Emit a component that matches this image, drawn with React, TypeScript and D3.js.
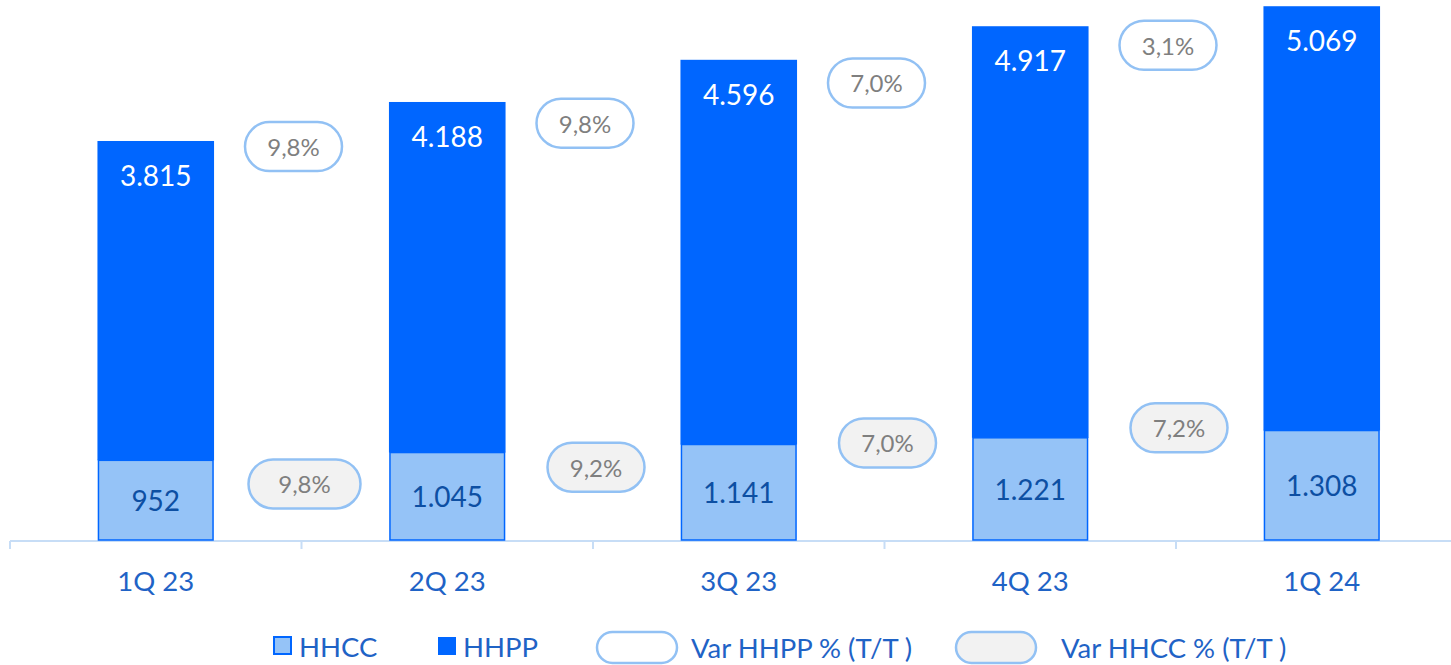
import React from 'react';
import * as d3 from 'd3';

// Quarterly households (thousands): HHCC stacked under HHPP
const quarters = ['1Q 23', '2Q 23', '3Q 23', '4Q 23', '1Q 24'];
const hhcc = [952, 1045, 1141, 1221, 1308];
const hhpp = [3815, 4188, 4596, 4917, 5069];

// Quarter-on-quarter growth shown in the pills between bars
const varHhpp = [9.8, 9.8, 7.0, 3.1];
const varHhcc = [9.8, 9.2, 7.0, 7.2];
// level (in household units) at which each growth tag sits
const varHhppLevel = [4700, 4980, 5460, 5910];
const varHhccLevel = [670, 870, 1160, 1340];

const W = 1451;
const H = 665;
const FONT = 'Lato, "Noto Sans", sans-serif';
const BLUE = '#0066FF';
const LIGHT = '#95C3F7';
const PILL_STROKE = '#92C1F4';
const AXIS = '#C7DDF6';
const TEXT_BLUE = '#1F63C6';

const fmt = (v: number) => d3.format(',')(v).replace(/,/g, '.');
const fmtPct = (v: number) => v.toFixed(1).replace('.', ',') + '%';

export default function App() {
  const x = d3.scaleBand<string>().domain(quarters).range([10, 1467.5]).padding(0);
  const step = x.step();
  const barW = x.bandwidth() * 0.4;
  const y = d3.scaleLinear().domain([0, 6400]).range([540, 4.3]);

  const rows = quarters.map((q, i) => ({ q, hhcc: hhcc[i], hhpp: hhpp[i] }));
  const stack = d3.stack<any>().keys(['hhcc', 'hhpp'])(rows);
  const [ccLayer, ppLayer] = stack;

  const pillW = 97;
  const pillH = 49;
  const boundaries = d3.range(quarters.length + 1).map(i => x.range()[0] + i * step);

  const pill = (cx: number, cy: number, label: string, fill: string, key: string, w = pillW) => (
    <g key={key}>
      <rect x={cx - w / 2} y={cy - pillH / 2} width={w} height={pillH} rx={pillH / 2}
        fill={fill} stroke={PILL_STROKE} strokeWidth={2.5} />
      <text x={cx} y={cy} textAnchor="middle" dominantBaseline="central" fontSize={24} fill="#7F7F7F">{label}</text>
    </g>
  );

  return (
    <svg width={W} height={H} style={{ position: 'absolute', left: 0, top: 0, background: '#fff' }} fontFamily={FONT}>
      {/* axis */}
      <line x1={10} x2={W} y1={541} y2={541} stroke={AXIS} strokeWidth={2} />
      {boundaries.map((b, i) => (
        <line key={i} x1={b} x2={b} y1={541} y2={549} stroke={AXIS} strokeWidth={2} />
      ))}
      {quarters.map(q => (
        <text key={q} x={x(q)! + x.bandwidth() / 2} y={580} textAnchor="middle" dominantBaseline="central"
          fontSize={27.5} fill={TEXT_BLUE}>{q}</text>
      ))}

      {/* bars */}
      {quarters.map((q, i) => {
        const bx = x(q)! + (x.bandwidth() - barW) / 2;
        const cc = ccLayer[i];
        const pp = ppLayer[i];
        return (
          <g key={q}>
            <rect x={bx} y={y(pp[1])} width={barW} height={y(pp[0]) - y(pp[1])} fill={BLUE} />
            <rect x={bx + 1} y={y(cc[1])} width={barW - 2} height={y(cc[0]) - y(cc[1])} fill={LIGHT}
              stroke={BLUE} strokeWidth={1.5} />
            <text x={bx + barW / 2} y={y(pp[1]) + 34} textAnchor="middle" dominantBaseline="central"
              fontSize={28} fill="#fff">{fmt(hhpp[i])}</text>
            <text x={bx + barW / 2} y={(y(cc[0]) + y(cc[1])) / 2} textAnchor="middle" dominantBaseline="central"
              fontSize={28} fill="#0D4FA3">{fmt(hhcc[i])}</text>
          </g>
        );
      })}

      {/* growth pills */}
      {varHhpp.map((v, i) => pill(boundaries[i + 1] - 8, y(varHhppLevel[i]), fmtPct(v), '#fff', 'pp' + i))}
      {varHhcc.map((v, i) => pill(boundaries[i + 1] + 3, y(varHhccLevel[i]), fmtPct(v), '#F2F2F2', 'cc' + i,
        i === 0 ? 112 : pillW))}

      {/* legend */}
      <g fontSize={27.5} fill={TEXT_BLUE}>
        <rect x={274} y={637} width={17} height={17} fill={LIGHT} stroke={BLUE} strokeWidth={2} />
        <text x={299} y={646} dominantBaseline="central">HHCC</text>
        <rect x={438} y={637} width={18} height={18} fill={BLUE} />
        <text x={463} y={646} dominantBaseline="central">HHPP</text>
        <rect x={597} y={632} width={80} height={31} rx={15.5} fill="#fff" stroke={PILL_STROKE} strokeWidth={2.5} />
        <text x={691} y={647} dominantBaseline="central">Var HHPP % (T/T )</text>
        <rect x={956} y={632} width={80} height={31} rx={15.5} fill="#F2F2F2" stroke={PILL_STROKE} strokeWidth={2.5} />
        <text x={1061} y={647} dominantBaseline="central">Var HHCC % (T/T )</text>
      </g>
    </svg>
  );
}
